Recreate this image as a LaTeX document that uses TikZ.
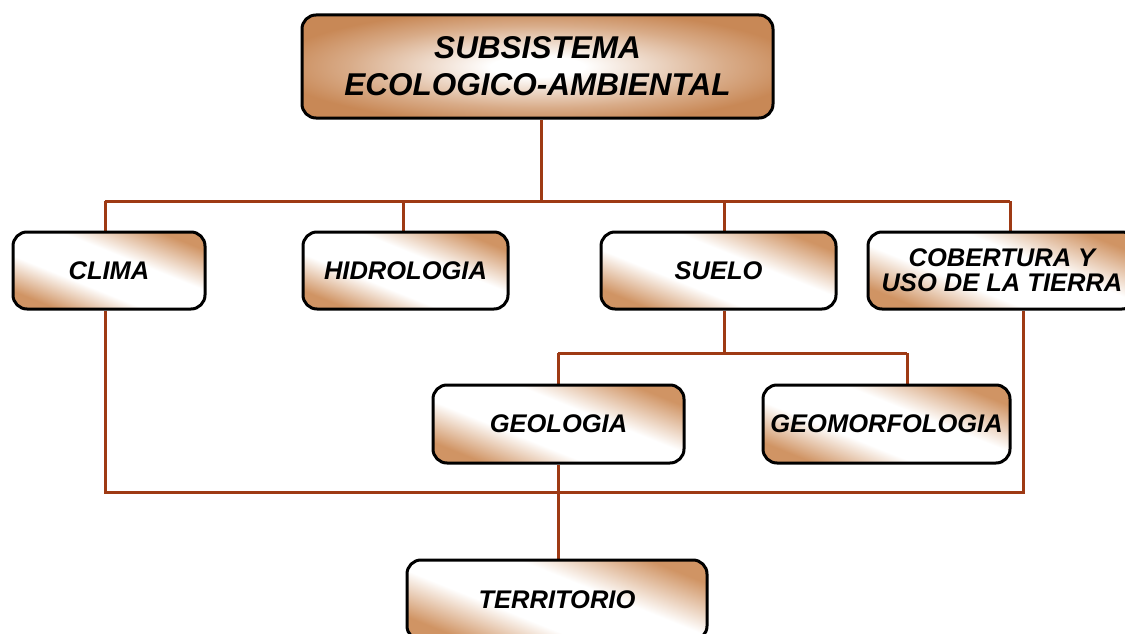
\documentclass[tikz,border=0pt]{standalone}
\usepackage{fontspec}
\setmainfont{Liberation Sans}
\definecolor{boxbrown}{RGB}{200,136,86}
\definecolor{leafbrown}{RGB}{208,148,100}
\definecolor{linebrown}{RGB}{158,58,20}
\pgfdeclareverticalshading{diagband}{100bp}{color(0bp)=(leafbrown); color(25bp)=(leafbrown); color(40bp)=(white); color(58bp)=(white); color(75bp)=(leafbrown); color(100bp)=(leafbrown)}
\pgfdeclareradialshading{topglow}{\pgfpoint{0bp}{0bp}}{color(0bp)=(white); color(5bp)=(white); color(20bp)=(boxbrown!70!white); color(28bp)=(boxbrown); color(50bp)=(boxbrown)}
\pgfdeclarelayer{bg}
\pgfsetlayers{bg,main}
\begin{document}
\begin{tikzpicture}[x=1pt,y=-1pt,
  conn/.style={draw=linebrown,line width=3pt},
  boxbase/.style={draw=black,line width=3pt,rounded corners=14pt,align=center,
    font=\fontsize{25.5}{25}\selectfont\bfseries\itshape,inner sep=0pt},
  leafbox/.style={boxbase,minimum height=77pt,shading=diagband,shading angle=-22},
  topbox/.style={boxbase,minimum width=471pt,minimum height=103pt,
    shading=topglow,
    font=\fontsize{31.5}{37}\selectfont\bfseries\itshape}]
\useasboundingbox (0,0) rectangle (1125,634);
\node[topbox] (top) at (537.5,66.5) {SUBSISTEMA\\ECOLOGICO-AMBIENTAL};
\node[leafbox,minimum width=192pt] (clima) at (109,270.5) {CLIMA};
\node[leafbox,minimum width=205pt] (hidro) at (405.5,270.5) {HIDROLOGIA};
\node[leafbox,minimum width=235pt] (suelo) at (718.5,270.5) {SUELO};
\node[leafbox,minimum width=268pt] (cober) at (1002,270.5) {COBERTURA Y\\USO DE LA TIERRA};
\node[leafbox,minimum width=251pt,minimum height=78pt] (geol) at (558.5,424) {GEOLOGIA};
\node[leafbox,minimum width=247pt,minimum height=78pt] (geom) at (886.5,424) {GEOMORFOLOGIA};
\node[leafbox,minimum width=300pt,minimum height=80pt] (terr) at (557,600) {TERRITORIO};
\coordinate (busL) at (105,201);
\coordinate (busR) at (1010,201);
\coordinate (busT) at (541,201);
\coordinate (busH) at (403,201);
\coordinate (busS) at (724,201);
\coordinate (sueL) at (558,353);
\coordinate (sueR) at (907,353);
\coordinate (sueM) at (724,353);
\coordinate (lowL) at (105,492);
\coordinate (lowR) at (1023,492);
\begin{pgfonlayer}{bg}
\draw[conn] (busL) -- (busR);
\draw[conn] (busT) -- (busT |- top.south);
\draw[conn] (busL) -- (busL |- clima.north);
\draw[conn] (busH) -- (busH |- hidro.north);
\draw[conn] (busS) -- (busS |- suelo.north);
\draw[conn] (busR) -- (busR |- cober.north);
\draw[conn] (sueM |- suelo.south) -- (sueM);
\draw[conn] (sueL) -- (sueR);
\draw[conn] (sueL) -- (sueL |- geol.north);
\draw[conn] (sueR) -- (sueR |- geom.north);
\draw[conn] (lowL |- clima.south) -- (lowL) -- (lowR) -- (lowR |- cober.south);
\draw[conn] (sueL |- geol.south) -- (sueL |- terr.north);
\end{pgfonlayer}
\end{tikzpicture}
\end{document}
